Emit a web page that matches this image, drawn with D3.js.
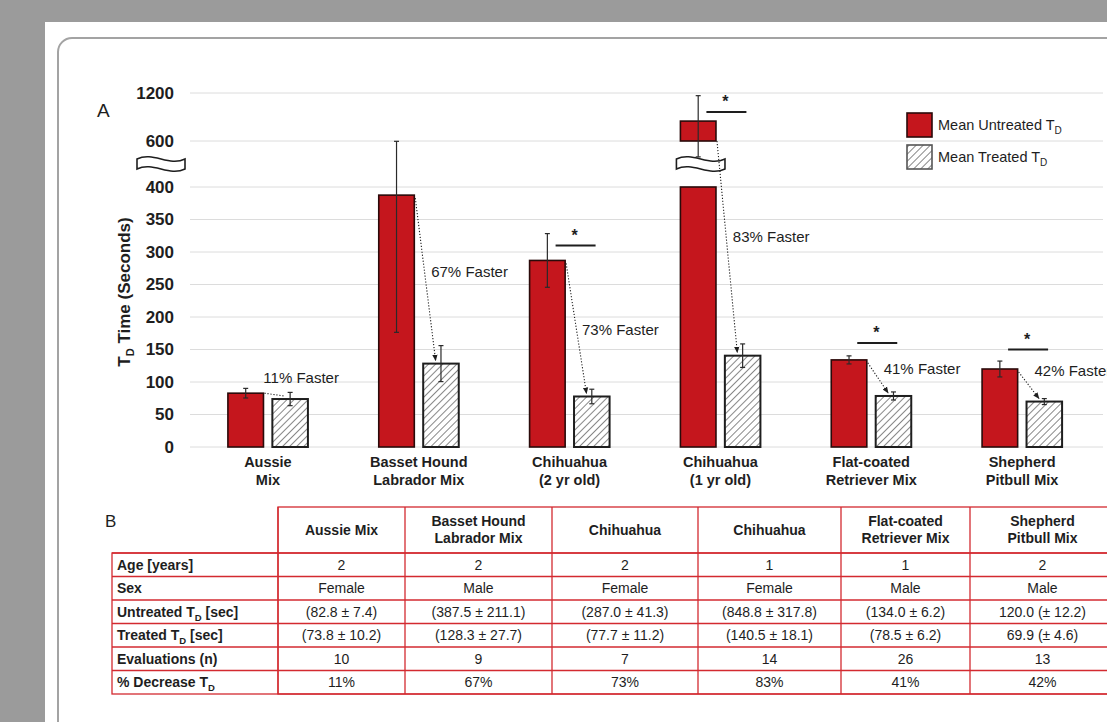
<!DOCTYPE html>
<html>
<head>
<meta charset="utf-8">
<script src="https://cdn.jsdelivr.net/npm/d3@7"></script>
<style>
  html, body { margin: 0; padding: 0; background: #9b9b9b; }
  svg { display: block; font-family: "Liberation Sans", Arial, sans-serif; }
</style>
</head>
<body>
<svg id="fig" width="1107" height="722"></svg>
<script>
// ---- data ----
const categories = [
  ["Aussie", "Mix"],
  ["Basset Hound", "Labrador Mix"],
  ["Chihuahua", "(2 yr old)"],
  ["Chihuahua", "(1 yr old)"],
  ["Flat-coated", "Retriever Mix"],
  ["Shepherd", "Pitbull Mix"]
];
const tableHeaders = [
  ["Aussie Mix"],
  ["Basset Hound", "Labrador Mix"],
  ["Chihuahua"],
  ["Chihuahua"],
  ["Flat-coated", "Retriever Mix"],
  ["Shepherd", "Pitbull Mix"]
];
const untreatedMean = [82.8, 387.5, 287.0, 848.8, 134.0, 120.0];
const untreatedSD   = [7.4, 211.1, 41.3, 317.8, 6.2, 12.2];
const treatedMean   = [73.8, 128.3, 77.7, 140.5, 78.5, 69.9];
const treatedSD     = [10.2, 27.7, 11.2, 18.1, 6.2, 4.6];
const pctDecrease   = [11, 67, 73, 83, 41, 42];
const ages          = ["2", "2", "2", "1", "1", "2"];
const sexes         = ["Female", "Male", "Female", "Female", "Male", "Male"];
const evaluations   = [10, 9, 7, 14, 26, 13];
// significance bracket level (seconds) for pairs marked with *
const sigLevel      = [null, null, 310, 962, 160, 150];
// level (seconds) at which each "% Faster" note sits
const noteLevel     = [106, 269, 180, 323, 121, 118];
const yTicks        = [0, 50, 100, 150, 200, 250, 300, 350, 400, 600, 1200];
const wholeInParens = [true, true, true, true, true, false];

// ---- styling ----
const RED = "#c5161d";
const INK = "#1e1e1e";

const svg = d3.select("#fig");

// page backdrop and card
svg.append("rect").attr("x", 45).attr("y", 22).attr("width", 1107 - 45).attr("height", 722 - 22).attr("fill", "#fff");
svg.append("rect").attr("x", 58).attr("y", 38).attr("width", 1120).attr("height", 720)
  .attr("rx", 14).attr("fill", "#fff").attr("stroke", "#a3a3a3").attr("stroke-width", 2);

// hatch pattern for treated bars
const defs = svg.append("defs");
const pat = defs.append("pattern").attr("id", "hatch").attr("patternUnits", "userSpaceOnUse")
  .attr("width", 5).attr("height", 5).attr("patternTransform", "rotate(45)");
pat.append("rect").attr("width", 5).attr("height", 5).attr("fill", "#fff");
pat.append("line").attr("x1", 0).attr("y1", 0).attr("x2", 0).attr("y2", 5)
  .attr("stroke", "#6a6a6a").attr("stroke-width", 1.6);
const arrow = defs.append("marker").attr("id", "arrow").attr("viewBox", "0 0 10 10")
  .attr("refX", 9).attr("refY", 5).attr("markerWidth", 6).attr("markerHeight", 6).attr("orient", "auto-start-reverse");
arrow.append("path").attr("d", "M0,1 L10,5 L0,9 Z").attr("fill", INK);

// ---- scales (broken axis: 400 -> 600 compressed) ----
const breakLow = 400, breakHigh = 600;
const y = d3.scaleLinear().domain([0, breakLow, breakHigh, 1200]).range([447, 187, 141, 93]);
const x = d3.scaleBand().domain(d3.range(categories.length)).range([192.5, 1097.5]);
const half = 40;
const sub = d3.scaleBand().domain(["u", "t"]).range([-half, half]).paddingInner(0.2);
const cx = i => x(i) + x.bandwidth() / 2;

const g = svg.append("g");

// gridlines
g.append("g").selectAll("line").data(yTicks).join("line")
  .attr("x1", 190).attr("x2", 1103)
  .attr("y1", d => y(d)).attr("y2", d => y(d))
  .attr("stroke", "#dcdcdc").attr("stroke-width", 1);

// y axis labels
const yAxis = d3.axisLeft(y).tickValues(yTicks).tickFormat(d3.format("d")).tickSize(0).tickPadding(0);
const ya = g.append("g").attr("transform", "translate(174,0)").call(yAxis);
ya.select(".domain").remove();
ya.selectAll("text").attr("font-size", 17).attr("font-weight", "bold").attr("fill", INK)
  .attr("font-family", "Liberation Sans, Arial, sans-serif");

// break ribbon
function ribbon(x0, x1, yc) {
  const w = x1 - x0, h = 5;
  return `M${x0},${yc - h} C${x0 + w / 3},${yc - h - 8} ${x0 + 2 * w / 3},${yc - h + 8} ${x1},${yc - h}` +
         ` L${x1},${yc + h} C${x0 + 2 * w / 3},${yc + h + 8} ${x0 + w / 3},${yc + h - 8} ${x0},${yc + h} Z`;
}
const breakMid = (y(breakLow) + y(breakHigh)) / 2;
g.append("path").attr("d", ribbon(137, 185, breakMid)).attr("fill", "#fff").attr("stroke", INK).attr("stroke-width", 1.6);

// axis title
const yt = g.append("text").attr("transform", `translate(130,${292}) rotate(-90)`)
  .attr("text-anchor", "middle").attr("font-size", 17).attr("font-weight", "bold").attr("fill", INK);
yt.append("tspan").text("T");
yt.append("tspan").attr("font-size", 11).attr("dy", 4).text("D");
yt.append("tspan").attr("dy", -4).text(" Time (Seconds)");

// panel letters
svg.append("text").attr("x", 97).attr("y", 117).attr("font-size", 19).attr("fill", INK).text("A");
svg.append("text").attr("x", 105).attr("y", 527).attr("font-size", 17).attr("fill", INK).text("B");

// ---- bars ----
const bars = g.append("g");
categories.forEach((c, i) => {
  const ux = cx(i) + sub("u"), tx = cx(i) + sub("t"), bw = sub.bandwidth();
  const v = untreatedMean[i];
  if (v > breakLow) {
    bars.append("rect").attr("x", ux).attr("y", y(breakLow)).attr("width", bw).attr("height", y(0) - y(breakLow))
      .attr("fill", RED).attr("stroke", "#2a0a0a").attr("stroke-width", 1.6);
    bars.append("rect").attr("x", ux).attr("y", y(v)).attr("width", bw).attr("height", y(breakHigh) - y(v))
      .attr("fill", RED).attr("stroke", "#2a0a0a").attr("stroke-width", 1.6);
  } else {
    bars.append("rect").attr("x", ux).attr("y", y(v)).attr("width", bw).attr("height", y(0) - y(v))
      .attr("fill", RED).attr("stroke", "#2a0a0a").attr("stroke-width", 1.6);
  }
  bars.append("rect").attr("x", tx).attr("y", y(treatedMean[i])).attr("width", bw).attr("height", y(0) - y(treatedMean[i]))
    .attr("fill", "url(#hatch)").attr("stroke", INK).attr("stroke-width", 2);
});

// error bars
function errorBar(xc, m, sd) {
  const e = g.append("g").attr("stroke", "#2a2a2a").attr("stroke-width", 1.2);
  e.append("line").attr("x1", xc).attr("x2", xc).attr("y1", y(m + sd)).attr("y2", y(Math.max(0, m - sd)));
  e.append("line").attr("x1", xc - 2.5).attr("x2", xc + 2.5).attr("y1", y(m + sd)).attr("y2", y(m + sd));
  e.append("line").attr("x1", xc - 2.5).attr("x2", xc + 2.5).attr("y1", y(Math.max(0, m - sd))).attr("y2", y(Math.max(0, m - sd)));
}
categories.forEach((c, i) => {
  const bw = sub.bandwidth();
  errorBar(cx(i) + sub("u") + bw / 2, untreatedMean[i], untreatedSD[i]);
  errorBar(cx(i) + sub("t") + bw / 2, treatedMean[i], treatedSD[i]);
});

// break ribbon over the tall bar
categories.forEach((c, i) => {
  if (untreatedMean[i] > breakLow) {
    const ux = cx(i) + sub("u");
    g.append("path").attr("d", ribbon(ux - 4, ux + sub.bandwidth() + 9, breakMid))
      .attr("fill", "#fff").attr("stroke", INK).attr("stroke-width", 1.6);
  }
});

// dotted arrows from untreated to treated, with % notes
categories.forEach((c, i) => {
  const bw = sub.bandwidth();
  const ux = cx(i) + sub("u"), tx = cx(i) + sub("t");
  const v = untreatedMean[i];
  const x0 = ux + bw + 1;
  const y0 = v > breakLow ? y(breakHigh) : y(v) + (i === 0 ? 0 : 3);
  const x1 = tx + bw * 0.35, y1 = y(treatedMean[i]) - 3;
  g.append("line").attr("x1", x0).attr("y1", y0).attr("x2", x1).attr("y2", y1)
    .attr("stroke", INK).attr("stroke-width", 1.1).attr("stroke-dasharray", "1.2,1.8")
    .attr("marker-end", i === 0 ? null : "url(#arrow)");
  const lx = i === 0 ? tx - 9 : tx + 8;
  g.append("text").attr("x", lx).attr("y", y(noteLevel[i])).attr("dy", "0.35em")
    .attr("font-size", 15).attr("fill", INK).text(`${pctDecrease[i]}% Faster`);
});

// significance brackets
categories.forEach((c, i) => {
  if (sigLevel[i] == null) return;
  const yy = y(sigLevel[i]), mid = cx(i) + 6;
  g.append("line").attr("x1", mid - 20).attr("x2", mid + 20).attr("y1", yy).attr("y2", yy)
    .attr("stroke", INK).attr("stroke-width", 2);
  g.append("text").attr("x", mid - 1).attr("y", yy - 5).attr("text-anchor", "middle")
    .attr("font-size", 16).attr("font-weight", "bold").attr("fill", INK).text("*");
});

// category labels
categories.forEach((c, i) => {
  const t = g.append("text").attr("text-anchor", "middle").attr("font-size", 14.5)
    .attr("font-weight", "bold").attr("fill", INK);
  c.forEach((line, k) => t.append("tspan").attr("x", cx(i)).attr("y", 467 + k * 18).text(line));
});

// legend
const legendItems = [{ fill: RED, stroke: "#2a0a0a", label: "Mean Untreated T" },
                     { fill: "url(#hatch)", stroke: "#555", label: "Mean Treated T" }];
legendItems.forEach((d, k) => {
  const ly = 113 + k * 32;
  svg.append("rect").attr("x", 907).attr("y", ly).attr("width", 25).attr("height", 24)
    .attr("fill", d.fill).attr("stroke", d.stroke).attr("stroke-width", 1.6);
  const t = svg.append("text").attr("x", 938).attr("y", ly + 17).attr("font-size", 14.5).attr("fill", INK);
  t.append("tspan").text(d.label);
  t.append("tspan").attr("font-size", 10).attr("dy", 4).text("D");
});

// ---- table B ----
const colEdges = [112, 278, 405, 552, 698, 841, 970, 1115];
const headerTop = 507, headerBottom = 553, rowH = 23.5;
const fmt = v => v.toFixed(1);
const valueText = (m, sd, i) => wholeInParens[i] ? `(${fmt(m)} ± ${fmt(sd)})` : `${fmt(m)} (± ${fmt(sd)})`;
const rows = [
  { label: ["Age [years]"], cells: ages },
  { label: ["Sex"], cells: sexes },
  { label: ["Untreated T", "D", " [sec]"], cells: untreatedMean.map((m, i) => valueText(m, untreatedSD[i], i)) },
  { label: ["Treated T", "D", " [sec]"], cells: treatedMean.map((m, i) => valueText(m, treatedSD[i], i)) },
  { label: ["Evaluations (n)"], cells: evaluations.map(String) },
  { label: ["% Decrease T", "D"], cells: pctDecrease.map(p => `${p}%`) }
];
const tb = svg.append("g");
const tableBottom = headerBottom + rows.length * rowH;
const RL = "#d32a30";
tb.append("rect").attr("x", colEdges[1]).attr("y", headerTop).attr("width", colEdges[7] - colEdges[1])
  .attr("height", tableBottom - headerTop).attr("fill", "none").attr("stroke", RL).attr("stroke-width", 1.3);
tb.append("rect").attr("x", colEdges[0]).attr("y", headerBottom).attr("width", colEdges[7] - colEdges[0])
  .attr("height", tableBottom - headerBottom).attr("fill", "none").attr("stroke", RL).attr("stroke-width", 1.3);
colEdges.slice(1, 7).forEach(cxE => {
  tb.append("line").attr("x1", cxE).attr("x2", cxE).attr("y1", headerTop).attr("y2", tableBottom)
    .attr("stroke", RL).attr("stroke-width", 1.3);
});
rows.forEach((r, k) => {
  const yy = headerBottom + k * rowH;
  tb.append("line").attr("x1", colEdges[0]).attr("x2", colEdges[7]).attr("y1", yy).attr("y2", yy)
    .attr("stroke", RL).attr("stroke-width", 1.3);
});
tableHeaders.forEach((h, i) => {
  const mx = (colEdges[i + 1] + colEdges[i + 2]) / 2;
  const t = tb.append("text").attr("text-anchor", "middle").attr("font-size", 14).attr("font-weight", "bold").attr("fill", INK);
  const start = (headerTop + headerBottom) / 2 - (h.length - 1) * 8.5;
  h.forEach((line, k) => t.append("tspan").attr("x", mx).attr("y", start + k * 17).attr("dy", "0.35em").text(line));
});
rows.forEach((r, k) => {
  const yc = headerBottom + k * rowH + rowH / 2;
  const t = tb.append("text").attr("x", colEdges[0] + 5).attr("y", yc).attr("dy", "0.35em")
    .attr("font-size", 14).attr("font-weight", "bold").attr("fill", INK);
  t.append("tspan").text(r.label[0]);
  if (r.label.length > 1) {
    t.append("tspan").attr("font-size", 9.5).attr("dy", 4).text(r.label[1]);
    if (r.label[2]) t.append("tspan").attr("dy", -4).text(r.label[2]);
  }
  r.cells.forEach((v, i) => {
    tb.append("text").attr("x", (colEdges[i + 1] + colEdges[i + 2]) / 2).attr("y", yc).attr("dy", "0.35em")
      .attr("text-anchor", "middle").attr("font-size", 14).attr("fill", INK).text(v);
  });
});
</script>
</body>
</html>
